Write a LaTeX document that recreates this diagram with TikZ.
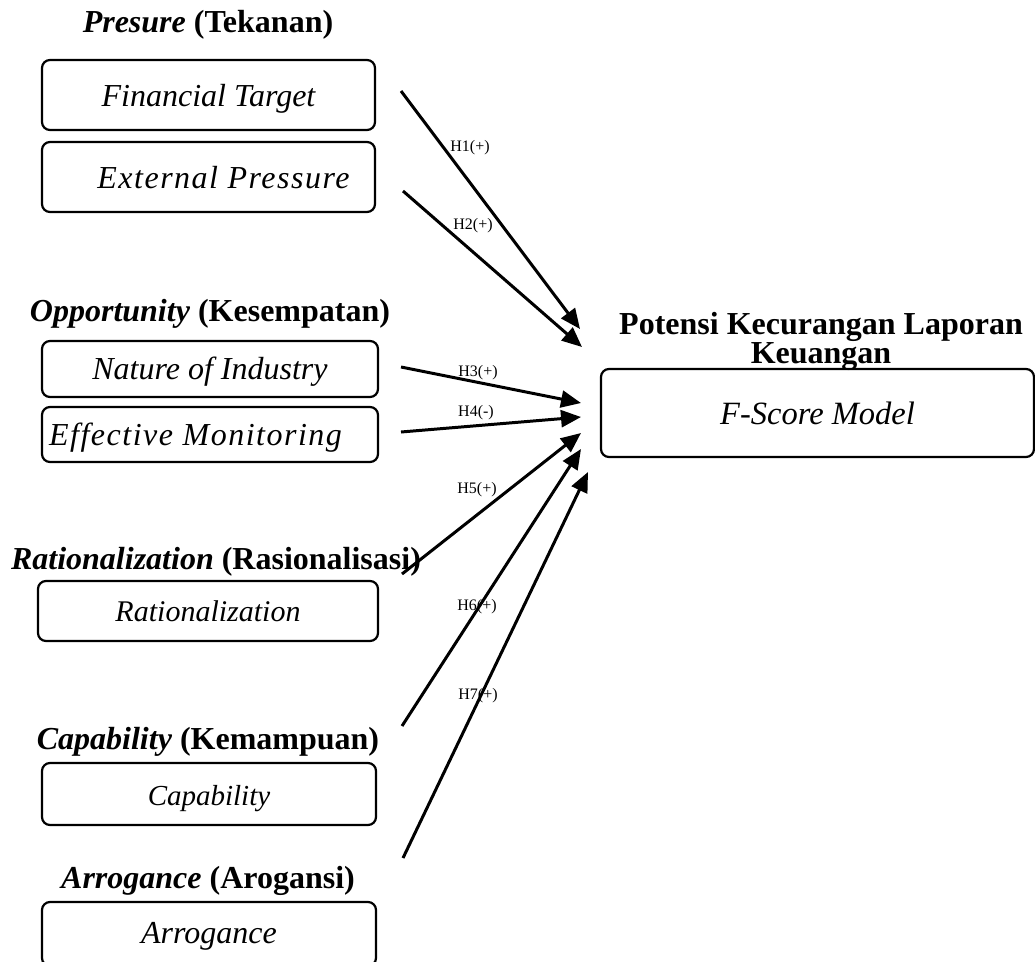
\documentclass[tikz,border=0pt]{standalone}
\usepackage{fontspec}
\setmainfont{Liberation Serif}
\usetikzlibrary{arrows.meta}
\newcommand{\widetext}[1]{{\addfontfeature{LetterSpace=4.7}#1}}
\newcommand{\lowered}[2]{\raisebox{-#1pt}[\height][\depth]{#2}}
\begin{document}
\begin{tikzpicture}[x=1pt,y=-1pt,
  varbox/.style={draw, line width=2.2pt, rounded corners=8pt, inner sep=0pt,
    font=\fontsize{32}{36}\selectfont\itshape},
  grouptitle/.style={font=\fontsize{32}{27}\selectfont\bfseries, inner sep=0pt, align=center},
  hyp/.style={-{Triangle[length=20pt,width=17pt]}, line width=3pt},
  hlabel/.style={font=\fontsize{16}{18}\selectfont, inner sep=0pt}]
\useasboundingbox (0,0) rectangle (1035,961);

% group titles
\node[grouptitle] (tPre) at (208,25) {\textit{Presure} (Tekanan)};
\node[grouptitle] (tOpp) at (210,314) {\textit{Opportunity} (Kesempatan)};
\node[grouptitle] (tRat) at (216,562) {\textit{Rationalization} (Rasionalisasi)};
\node[grouptitle] (tCap) at (208,742) {\textit{Capability} (Kemampuan)};
\node[grouptitle] (tArr) at (208,881) {\textit{Arrogance} (Arogansi)};
\node[grouptitle] (tFS) at (821,341) {Potensi Kecurangan Laporan\\Keuangan};

% indicator boxes
\node[varbox, minimum width=333pt, minimum height=70pt] (ft) at (208.5,95) {\lowered{4}{Financial Target}};
\node[varbox, minimum width=333pt, minimum height=70pt] (ep) at (208.5,177) {\hspace*{30pt}\lowered{1}{\widetext{External Pressure}}};
\node[varbox, minimum width=336pt, minimum height=56pt] (ni) at (210,369) {\lowered{3}{Nature of Industry}};
\node[varbox, minimum width=336pt, minimum height=55pt] (em) at (210,434.5) {\lowered{3}{\widetext{Effective Monitoring}}\hspace*{29pt}};
\node[varbox, minimum width=340pt, minimum height=60pt, font=\fontsize{30}{36}\selectfont\itshape] (ra) at (208,611) {Rationalization};
\node[varbox, minimum width=334pt, minimum height=62pt, font=\fontsize{29}{36}\selectfont\itshape] (ca) at (209,794) {\lowered{5}{Capability}};
\node[varbox, minimum width=334pt, minimum height=64pt] (ar) at (209,934) {\lowered{2}{Arrogance}};
\node[varbox, minimum width=433pt, minimum height=88pt, font=\fontsize{32.5}{36}\selectfont\itshape] (fs) at (817.5,413) {F-Score Model};

% arrow end points
\coordinate (s1) at (401,91);  \coordinate (e1) at (580,329);
\coordinate (s2) at (403,191); \coordinate (e2) at (582,347);
\coordinate (s3) at (401,367); \coordinate (e3) at (581,403);
\coordinate (s4) at (401,432); \coordinate (e4) at (581,417);
\coordinate (s5) at (402,574); \coordinate (e5) at (581,433);
\coordinate (s6) at (402,726); \coordinate (e6) at (581,449);
\coordinate (s7) at (403,858); \coordinate (e7) at (588,472);

% hypotheses
\draw[hyp] (s1) -- (e1);
\draw[hyp] (s2) -- (e2);
\draw[hyp] (s3) -- (e3);
\draw[hyp] (s4) -- (e4);
\draw[hyp] (s5) -- (e5);
\draw[hyp] (s6) -- (e6);
\draw[hyp] (s7) -- (e7);

\node[hlabel] (h1) at (470,148) {H1(+)};
\node[hlabel] (h2) at (473,226) {H2(+)};
\node[hlabel] (h3) at (478,373) {H3(+)};
\node[hlabel] (h4) at (476,413) {H4(-)};
\node[hlabel] (h5) at (477,490) {H5(+)};
\node[hlabel] (h6) at (477,607) {H6(+)};
\node[hlabel] (h7) at (478,696) {H7(+)};
\end{tikzpicture}
\end{document}
